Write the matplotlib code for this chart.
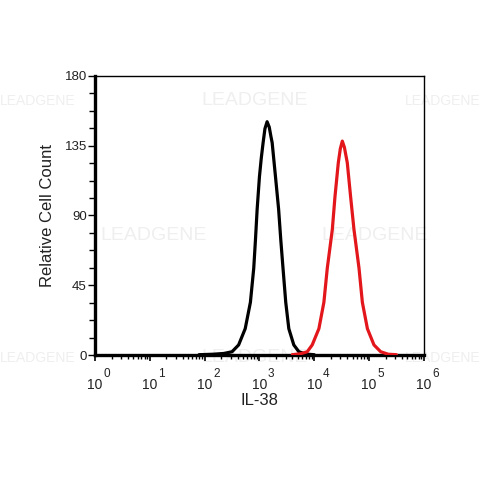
import matplotlib
matplotlib.use("Agg")
import matplotlib.pyplot as plt
from matplotlib.ticker import FixedLocator, NullFormatter, LogLocator

plt.rcParams['font.family'] = ['Liberation Sans', 'DejaVu Sans']

# Data (fluorescence intensity, relative cell count)
black_x = [79, 141, 224, 316, 417, 550, 684, 787, 845, 908, 1000, 1080, 1167, 1260,
           1380, 1510, 1620, 1706, 1963, 2239, 2455, 2692, 3020, 3436, 4236, 5248,
           7079, 10000]
black_y = [0.2, 0.5, 1.0, 2.1, 6.5, 17, 34, 56, 74, 94, 115, 127, 137, 146,
           150.5, 147, 141, 137, 115, 94, 74, 56, 34, 17, 6.5, 2.1,
           0.6, 0.2]
red_x = [3981, 5623, 7447, 9183, 12162, 14997, 17298, 21380, 23878, 27479, 29900,
         32509, 35500, 40088, 46132, 53088, 65615, 75509, 93325, 123027, 163305,
         223872, 316228]
red_y = [0.2, 0.8, 2.1, 6.5, 17, 34, 56, 81, 102, 124, 133,
         138, 134, 124, 102, 81, 56, 34, 17, 6.5, 2.1,
         0.5, 0.2]

y_ticks = [0, 45, 90, 135, 180]
x_decades = [0, 1, 2, 3, 4, 5, 6]

fig = plt.figure(figsize=(4.8, 4.8), dpi=100)
ax = fig.add_axes([0.198, 0.2604, 0.685, 0.5813])
ax.set_zorder(2)
ax.patch.set_alpha(0)

# faint watermarks
wm_color = '#efefef'
for (wx, wy, ha, fs) in [(0.0, 0.79, 'left', 10), (0.53, 0.79, 'center', 14),
                         (1.0, 0.79, 'right', 10),
                         (0.32, 0.51, 'center', 14), (0.78, 0.51, 'center', 14),
                         (0.0, 0.255, 'left', 10), (0.53, 0.255, 'center', 14),
                         (1.0, 0.255, 'right', 10)]:
    fig.text(wx, wy, 'LEADGENE', color=wm_color, fontsize=fs,
             ha=ha, va='center', zorder=0)

ax.plot(black_x, black_y, color='black', lw=2.3, solid_joinstyle='round',
        solid_capstyle='round', zorder=3)
ax.plot(red_x, red_y, color='#e3161b', lw=2.3, solid_joinstyle='round',
        solid_capstyle='round', zorder=3)

ax.set_xscale('log')
ax.set_xlim(1, 1e6)
ax.set_ylim(0, 180)

ax.spines['left'].set_linewidth(2.4)
ax.spines['bottom'].set_linewidth(2.4)
ax.spines['top'].set_linewidth(1.0)
ax.spines['right'].set_linewidth(1.0)

ax.xaxis.set_major_locator(FixedLocator([10 ** d for d in x_decades]))
ax.xaxis.set_minor_locator(LogLocator(base=10, subs=range(2, 10), numticks=20))
ax.xaxis.set_major_formatter(NullFormatter())
ax.xaxis.set_minor_formatter(NullFormatter())
ax.tick_params(axis='x', which='major', length=4.5, width=1.2, direction='out')
ax.tick_params(axis='x', which='minor', length=2.8, width=1.0, direction='out')

ax.yaxis.set_major_locator(FixedLocator(y_ticks))
ax.yaxis.set_minor_locator(FixedLocator([v * 11.25 for v in range(17)]))
ax.set_yticklabels([str(v) for v in y_ticks], fontsize=9.5, color='#222222')
ax.tick_params(axis='y', which='major', length=5, width=1.0, direction='out', pad=1)
ax.tick_params(axis='y', which='minor', length=4, width=1.0, direction='out')

for d in x_decades:
    ax.annotate('10', xy=(10 ** d, 0), xycoords=('data', 'axes fraction'),
                xytext=(0, -21.5), textcoords='offset points',
                ha='center', va='center', fontsize=10, color='#222222')
    ax.annotate(str(d), xy=(10 ** d, 0), xycoords=('data', 'axes fraction'),
                xytext=(8.5, -13.5), textcoords='offset points',
                ha='center', va='center', fontsize=8.5, color='#222222')

fig.text(0.541, 0.165, 'IL-38', fontsize=12, ha='center', va='center', color='#222222')
fig.text(0.098, 0.551, 'Relative Cell Count', fontsize=12, ha='center', va='center',
         rotation=90, color='#222222')

fig.savefig('out.png', dpi=100)
